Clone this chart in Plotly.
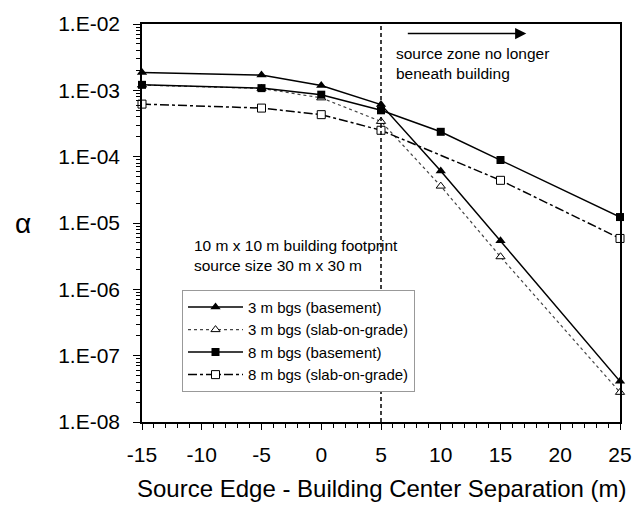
import plotly.graph_objects as go

# ---- data ----
separation = [-15, -5, 0, 5, 10, 15, 25]
alpha_3m_basement = [1.85e-3, 1.70e-3, 1.18e-3, 6.1e-4, 6.1e-5, 5.4e-6, 4.1e-8]
alpha_3m_slab = [1.20e-3, 1.07e-3, 7.7e-4, 3.4e-4, 3.6e-5, 3.1e-6, 2.8e-8]
alpha_8m_basement = [1.21e-3, 1.08e-3, 8.6e-4, 5.0e-4, 2.37e-4, 8.9e-5, 1.23e-5]
alpha_8m_slab = [6.2e-4, 5.4e-4, 4.3e-4, 2.5e-4, None, 4.4e-5, 5.85e-6]

series_names = ["3 m bgs (basement)", "3 m bgs (slab-on-grade)",
                "8 m bgs (basement)", "8 m bgs (slab-on-grade)"]

y_tick_vals = [1e-8, 1e-7, 1e-6, 1e-5, 1e-4, 1e-3, 1e-2]
y_tick_text = ["1.E-08", "1.E-07", "1.E-06", "1.E-05", "1.E-04", "1.E-03", "1.E-02"]
x_tick_vals = [-15, -10, -5, 0, 5, 10, 15, 20, 25]
x_tick_text = ["-15", "-10", "-5", "0", "5", "10", "15", "20", "25"]
boundary_x = 5

FONT = "Arial, Liberation Sans, Helvetica, sans-serif"

fig = go.Figure()

fig.add_trace(go.Scatter(
    x=separation, y=alpha_3m_basement, name=series_names[0], mode="lines+markers",
    cliponaxis=False,
    line=dict(color="black", width=1.5),
    marker=dict(symbol="triangle-up", size=9, color="black"),
))
fig.add_trace(go.Scatter(
    x=separation, y=alpha_3m_slab, name=series_names[1], mode="lines+markers",
    cliponaxis=False,
    line=dict(color="#444444", width=1.2, dash="dot"),
    marker=dict(symbol="triangle-up", size=8, color="white",
                line=dict(color="black", width=1)),
))
fig.add_trace(go.Scatter(
    x=separation, y=alpha_8m_basement, name=series_names[2], mode="lines+markers",
    cliponaxis=False,
    line=dict(color="black", width=1.5),
    marker=dict(symbol="square", size=8, color="black"),
))
fig.add_trace(go.Scatter(
    x=separation, y=alpha_8m_slab, name=series_names[3], mode="lines+markers",
    connectgaps=True, cliponaxis=False,
    line=dict(color="black", width=1.5, dash="dashdot"),
    marker=dict(symbol="square", size=8, color="white",
                line=dict(color="black", width=1)),
))

# vertical boundary line
fig.add_shape(type="line", xref="x", yref="paper", x0=boundary_x, x1=boundary_x,
              y0=0, y1=1, line=dict(color="black", width=1.5, dash="4px,3px"))

annotations = [
    dict(text="10 m x 10 m building footprint<br>source size 30 m x 30 m",
         xref="paper", yref="paper", x=0.104, y=0.4176, xanchor="left", yanchor="middle",
         align="left", showarrow=False, font=dict(size=15.5, color="black", family=FONT)),
    dict(text="source zone no longer<br>beneath building",
         xref="paper", yref="paper", x=0.528, y=0.90, xanchor="left", yanchor="middle",
         align="left", showarrow=False, font=dict(size=15.5, color="black", family=FONT)),
    dict(text="", xref="paper", yref="paper", x=0.804, y=0.976, ax=-120, ay=0,
         showarrow=True, arrowhead=2, arrowsize=1.4, arrowwidth=1.6, arrowcolor="black"),
    dict(text="α", xref="paper", yref="paper", x=-0.25, y=0.5, xanchor="center",
         yanchor="middle", showarrow=False, font=dict(size=28, color="black", family=FONT)),
    dict(text="Source Edge - Building Center Separation (m)", xref="paper", yref="paper",
         x=0.502, y=-0.166, xanchor="center", yanchor="middle", showarrow=False,
         font=dict(size=24, color="black", family=FONT)),
]

fig.update_layout(
    width=644, height=506,
    margin=dict(l=142, r=12, t=18, b=84),
    paper_bgcolor="white", plot_bgcolor="white",
    font=dict(family=FONT, color="black"),
    showlegend=True,
    legend=dict(x=0.0837, y=0.332, xanchor="left", yanchor="top",
                bgcolor="white", bordercolor="#999999", borderwidth=1,
                font=dict(size=15, color="black", family=FONT),
                itemwidth=55, tracegroupgap=0),
    annotations=annotations,
)

minor_y = [m * 10.0 ** e for e in range(-8, -2) for m in range(2, 10)]

fig.update_yaxes(
    type="log", range=[-8, -2], tickvals=y_tick_vals, ticktext=y_tick_text,
    ticks="outside", ticklen=7, tickwidth=1.2, tickcolor="black",
    showline=True, linecolor="black", linewidth=1.5, mirror=True,
    showgrid=False, zeroline=False, ticklabelstandoff=9,
    tickfont=dict(size=21, color="black", family=FONT),
    minor=dict(tickvals=minor_y, ticks="outside", ticklen=4, tickcolor="black",
               tickwidth=1, showgrid=False),
)
fig.update_xaxes(
    range=[-15, 25], tickvals=x_tick_vals, ticktext=x_tick_text,
    ticks="outside", ticklen=6, tickwidth=1.2, tickcolor="black",
    showline=True, linecolor="black", linewidth=1.5, mirror=True,
    showgrid=False, zeroline=False, ticklabelstandoff=7,
    tickfont=dict(size=21, color="black", family=FONT),
    minor=dict(dtick=1, ticks="outside", ticklen=4, tickcolor="black",
               tickwidth=1, showgrid=False),
)

fig.write_html("out.html")
